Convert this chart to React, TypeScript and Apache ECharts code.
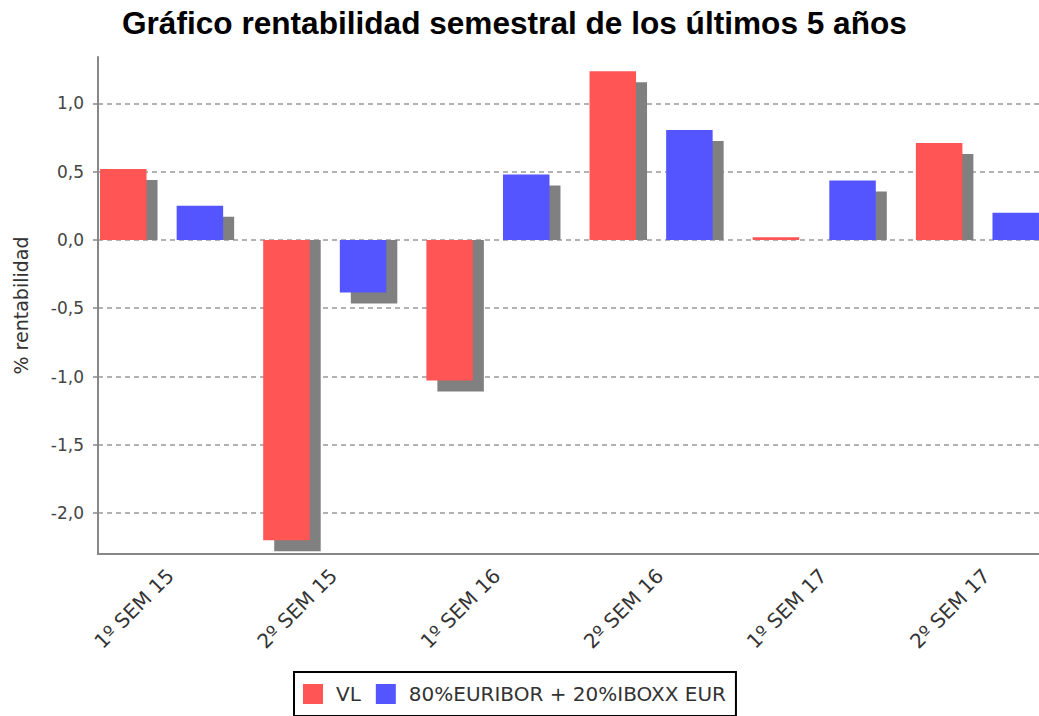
import React, { useEffect, useRef } from "react";
import * as echarts from "echarts";

const chartTitle = "Gráfico rentabilidad semestral de los últimos 5 años";
const categories = ["1º SEM 15", "2º SEM 15", "1º SEM 16", "2º SEM 16", "1º SEM 17", "2º SEM 17"];
const vlValues = [0.52, -2.2, -1.03, 1.235, 0.02, 0.71];
const benchValues = [0.25, -0.385, 0.48, 0.805, 0.435, 0.2];
const seriesNames = ["VL", "80%EURIBOR + 20%IBOXX EUR"];
const seriesColors = ["#FF5555", "#5555FF"];
const yTicks = [-2, -1.5, -1, -0.5, 0, 0.5, 1];
const yMin = -2.3;
const yMax = 1.34;
const yAxisName = "% rentabilidad";

const LABEL_FONT = "'DejaVu Sans', sans-serif";
const SHADOW = 11;
const BAR_FRAC = 0.285;
const VIEW_W = 1039;
const VIEW_H = 716;
const CHART_W = 1077;

const makeRender = (offsetFrac: number) => (params: any, api: any) => {
  const idx = api.value(0);
  const val = api.value(1);
  const band = api.size([1, 0])[0];
  const base = api.coord([idx, 0]);
  const end = api.coord([idx, val]);
  const x = base[0] - band / 2 + band * offsetFrac;
  const w = band * BAR_FRAC;
  const top = Math.min(base[1], end[1]);
  const h = Math.abs(end[1] - base[1]);
  const children: any[] = [];
  let sy0: number, sy1: number;
  if (val >= 0) {
    sy0 = end[1] + SHADOW;
    sy1 = base[1];
  } else {
    sy0 = base[1];
    sy1 = end[1] + SHADOW;
  }
  if (sy1 > sy0) {
    children.push({
      type: "rect",
      shape: { x: x + SHADOW, y: sy0, width: w, height: sy1 - sy0 },
      style: { fill: "#808080" },
    });
  }
  children.push({
    type: "rect",
    shape: { x, y: top, width: w, height: Math.max(h, 0.5) },
    style: { fill: api.visual("color") },
  });
  return { type: "group", children };
};

export default function App() {
  const ref = useRef<HTMLDivElement>(null);
  useEffect(() => {
    if (!ref.current) return;
    const chart = echarts.init(ref.current, undefined, { renderer: "svg" });
    const fmt = (v: number) => v.toFixed(1).replace(".", ",");
    chart.setOption({
      animation: false,
      backgroundColor: "#ffffff",
      title: {
        text: chartTitle,
        left: 122,
        top: 7,
        padding: 0,
        textStyle: {
          fontFamily: "'Liberation Sans', Arial, sans-serif",
          fontWeight: "bold",
          fontSize: 31.6,
          color: "#000000",
        },
      },
      legend: {
        left: 294,
        top: 672,
        padding: [12, 10, 12, 9],
        borderColor: "#000000",
        borderWidth: 2,
        backgroundColor: "#ffffff",
        icon: "rect",
        itemWidth: 20,
        itemHeight: 20,
        itemGap: 15,
        textStyle: {
          fontFamily: LABEL_FONT,
          fontSize: 20,
          color: "#333333",
          padding: [0, 0, 0, 8],
        },
        data: seriesNames,
      },
      grid: {
        left: 98,
        right: 0,
        top: 57,
        bottom: 162,
        containLabel: false,
      },
      xAxis: {
        type: "category",
        data: categories,
        axisLine: { show: true, onZero: false, lineStyle: { color: "#888888", width: 2 } },
        axisTick: { show: false },
        splitLine: { show: false },
        axisLabel: {
          rotate: 45,
          margin: 9,
          padding: [0, 13, 0, 0],
          interval: 0,
          fontFamily: LABEL_FONT,
          fontSize: 20,
          color: "#333333",
        },
      },
      yAxis: {
        type: "value",
        min: yMin,
        max: yMax,
        splitNumber: 8,
        name: yAxisName,
        nameLocation: "middle",
        nameGap: 68,
        nameTextStyle: { fontFamily: LABEL_FONT, fontSize: 19, color: "#333333" },
        axisLine: { show: true, lineStyle: { color: "#888888", width: 2 } },
        axisTick: { show: true, length: 5, customValues: yTicks, lineStyle: { color: "#888888", width: 1.5 } },
        axisLabel: {
          customValues: yTicks,
          formatter: fmt,
          margin: 14,
          fontFamily: LABEL_FONT,
          fontSize: 17,
          color: "#444444",
        },
        splitLine: {
          show: true,
          lineStyle: { color: "#999999", width: 1.5, type: [5, 4] },
        },
      },
      series: [
        {
          name: seriesNames[0],
          type: "custom",
          itemStyle: { color: seriesColors[0] },
          renderItem: makeRender(0.0125),
          encode: { x: 0, y: 1 },
          data: vlValues.map((v, i) => [i, v]),
        },
        {
          name: seriesNames[1],
          type: "custom",
          itemStyle: { color: seriesColors[1] },
          renderItem: makeRender(0.482),
          encode: { x: 0, y: 1 },
          data: benchValues.map((v, i) => [i, v]),
        },
      ],
    });
    return () => chart.dispose();
  }, []);
  return (
    <div
      style={{
        position: "absolute",
        left: 0,
        top: 0,
        width: VIEW_W,
        height: VIEW_H,
        overflow: "hidden",
        background: "#ffffff",
      }}
    >
      <div ref={ref} style={{ width: CHART_W, height: VIEW_H }} />
    </div>
  );
}
